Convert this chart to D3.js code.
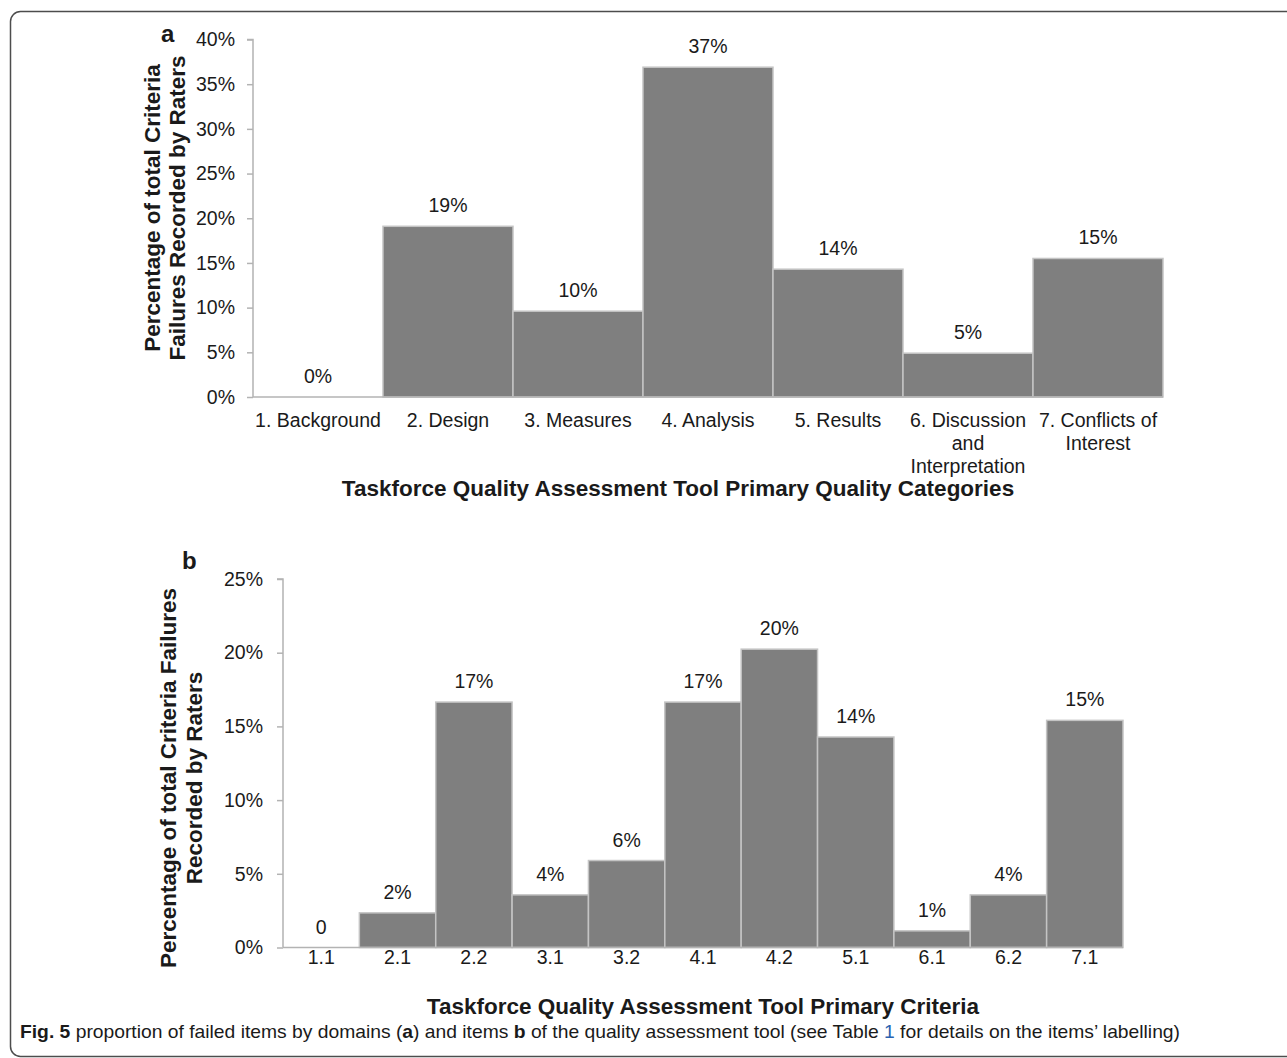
<!DOCTYPE html>
<html>
<head>
<meta charset="utf-8">
<script src="https://cdn.jsdelivr.net/npm/d3@7/dist/d3.min.js"></script>
<style>
  html, body { margin: 0; padding: 0; background: #fff; }
  svg { display: block; }
  text { font-family: "Liberation Sans", Arial, sans-serif; fill: #1a1a1a; }
</style>
</head>
<body>
<svg id="chart" width="1287" height="1058"></svg>
<script>
// ---- Data ----
const categoriesA = ["1. Background", "2. Design", "3. Measures", "4. Analysis", "5. Results", "6. Discussion and Interpretation", "7. Conflicts of Interest"];
const categoryLinesA = [["1. Background"], ["2. Design"], ["3. Measures"], ["4. Analysis"], ["5. Results"], ["6. Discussion", "and", "Interpretation"], ["7. Conflicts of", "Interest"]];
const valuesA = [0, 19.1, 9.6, 36.9, 14.3, 4.9, 15.5];
const labelsA = ["0%", "19%", "10%", "37%", "14%", "5%", "15%"];
const ticksA = [0, 5, 10, 15, 20, 25, 30, 35, 40];

const categoriesB = ["1.1", "2.1", "2.2", "3.1", "3.2", "4.1", "4.2", "5.1", "6.1", "6.2", "7.1"];
const valuesB = [0, 2.35, 16.65, 3.57, 5.9, 16.65, 20.24, 14.28, 1.13, 3.57, 15.41];
const labelsB = ["0", "2%", "17%", "4%", "6%", "17%", "20%", "14%", "1%", "4%", "15%"];
const ticksB = [0, 5, 10, 15, 20, 25];

const svg = d3.select("#chart");

// Frame
svg.append("rect")
  .attr("x", 10.5).attr("y", 11.5)
  .attr("width", 1300).attr("height", 1045)
  .attr("rx", 10).attr("ry", 10)
  .attr("fill", "none").attr("stroke", "#4d4d4d").attr("stroke-width", 1.5);

const BAR_FILL = "#7f7f7f", BAR_STROKE = "#c4c4c4", AXIS_COL = "#b3b3b3";

function panel(opts) {
  const g = svg.append("g");
  const x = d3.scaleBand().domain(opts.cats).range([opts.x0, opts.x1]).padding(0);
  const y = d3.scaleLinear().domain([0, opts.max]).range([opts.y0, opts.y1]);

  // y axis
  const yAxis = d3.axisLeft(y).tickValues(opts.ticks).tickFormat(d => d + "%").tickSize(6).tickPadding(opts.tickPad);
  const ya = g.append("g").attr("transform", `translate(${opts.x0},0)`).call(yAxis);
  ya.select(".domain").attr("stroke", AXIS_COL).attr("stroke-width", 1.5).attr("d", `M-6,${y(opts.max)}H0V${y(0)}`);
  ya.selectAll(".tick line").attr("stroke", AXIS_COL).attr("stroke-width", 1.5);
  ya.selectAll(".tick text").attr("font-size", opts.fs).attr("fill", "#1a1a1a")
    .attr("font-family", '"Liberation Sans", Arial, sans-serif');

  // bars
  g.selectAll("rect.bar").data(opts.vals).join("rect")
    .attr("class", "bar")
    .attr("x", (d, i) => x(opts.cats[i]))
    .attr("width", x.bandwidth())
    .attr("y", d => y(d))
    .attr("height", d => y(0) - y(d))
    .attr("fill", BAR_FILL)
    .attr("stroke", d => d > 0 ? BAR_STROKE : "none")
    .attr("stroke-width", 1.5);

  // x baseline
  g.append("line").attr("x1", opts.x0).attr("x2", opts.x1)
    .attr("y1", y(0)).attr("y2", y(0))
    .attr("stroke", AXIS_COL).attr("stroke-width", 1.5);

  // value labels
  g.selectAll("text.val").data(opts.vals).join("text")
    .attr("class", "val")
    .attr("x", (d, i) => x(opts.cats[i]) + x.bandwidth() / 2)
    .attr("y", d => y(d) - 14)
    .attr("text-anchor", "middle")
    .attr("font-size", opts.fs)
    .text((d, i) => opts.labels[i]);

  // category labels
  g.selectAll("text.cat").data(opts.cats).join("text")
    .attr("class", "cat")
    .attr("x", d => x(d) + x.bandwidth() / 2)
    .attr("y", opts.catY)
    .attr("text-anchor", "middle")
    .attr("font-size", opts.fs)
    .each(function(d, i) {
      const lines = opts.catLines ? opts.catLines[i] : [d];
      d3.select(this).selectAll("tspan").data(lines).join("tspan")
        .attr("x", x(d) + x.bandwidth() / 2)
        .attr("dy", (l, j) => j === 0 ? 0 : 23)
        .text(l => l);
    });

  // x title
  g.append("text").attr("x", opts.xTitleX).attr("y", opts.xTitleY)
    .attr("text-anchor", "middle").attr("font-weight", "bold").attr("font-size", opts.titleFs)
    .text(opts.xTitle);

  // y title
  const yt = g.append("text").attr("transform", "rotate(-90)")
    .attr("text-anchor", "middle").attr("font-weight", "bold").attr("font-size", opts.titleFs);
  opts.yTitle.forEach((t, j) => {
    yt.append("tspan").attr("x", -opts.yTitleCY).attr("y", opts.yTitleX[j]).text(t);
  });

  // panel letter
  g.append("text").attr("x", opts.letterX).attr("y", opts.letterY)
    .attr("font-weight", "bold").attr("font-size", 24).text(opts.letter);
}

panel({
  cats: categoriesA, catLines: categoryLinesA, vals: valuesA, labels: labelsA, ticks: ticksA, max: 40,
  x0: 253, x1: 1163, y0: 397, y1: 39.5, fs: 19.5, tickPad: 12,
  catY: 427,
  xTitle: "Taskforce Quality Assessment Tool Primary Quality Categories", xTitleX: 678, xTitleY: 496, titleFs: 22.5,
  yTitle: ["Percentage of total Criteria", "Failures Recorded by Raters"], yTitleCY: 208, yTitleX: [160, 185],
  letter: "a", letterX: 161, letterY: 42
});

panel({
  cats: categoriesB, vals: valuesB, labels: labelsB, ticks: ticksB, max: 25,
  x0: 283, x1: 1123, y0: 947.5, y1: 579, fs: 19.5, tickPad: 14,
  catY: 964,
  xTitle: "Taskforce Quality Assessment Tool Primary Criteria", xTitleX: 703, xTitleY: 1014, titleFs: 22.5,
  yTitle: ["Percentage of total Criteria Failures", "Recorded by Raters"], yTitleCY: 778, yTitleX: [176, 202],
  letter: "b", letterX: 182, letterY: 569
});

// Caption
const cap = svg.append("text").attr("x", 20).attr("y", 1038)
  .attr("font-size", 18.5)
  .attr("font-family", '"Liberation Sans Narrow", "DejaVu Sans Condensed", "Liberation Sans", sans-serif')
  .attr("textLength", 1160).attr("lengthAdjust", "spacingAndGlyphs");
cap.append("tspan").attr("font-weight", "bold").text("Fig. 5");
cap.append("tspan").text("  proportion of failed items by domains (");
cap.append("tspan").attr("font-weight", "bold").text("a");
cap.append("tspan").text(") and items ");
cap.append("tspan").attr("font-weight", "bold").text("b");
cap.append("tspan").text(" of the quality assessment tool (see Table ");
cap.append("tspan").attr("fill", "#2a62b0").text("1");
cap.append("tspan").text(" for details on the items’ labelling)");
</script>
</body>
</html>
